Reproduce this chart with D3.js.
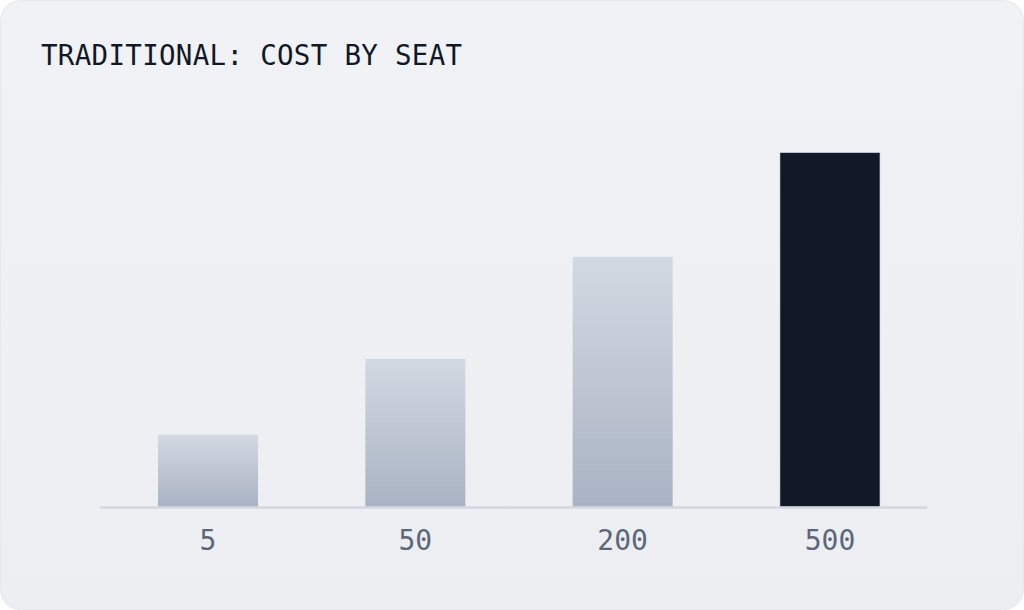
<!DOCTYPE html>
<html>
<head>
<meta charset="utf-8">
<script src="https://cdn.jsdelivr.net/npm/d3@7"></script>
<style>
  html, body { margin: 0; padding: 0; background: #ffffff; }
  svg { display: block; }
</style>
</head>
<body>
<script>
// data
var seats = ["5", "50", "200", "500"];
var cost = [20.4, 41.8, 70.6, 100];
var highlight = ["500"];
var title = "TRADITIONAL: COST BY SEAT";

var width = 1024, height = 610;
var baseY = 507, topY = 152.7;

var svg = d3.select("body").append("svg")
  .attr("width", width)
  .attr("height", height);

var defs = svg.append("defs");

var cardGrad = defs.append("linearGradient")
  .attr("id", "card").attr("x1", 0).attr("y1", 0).attr("x2", 0).attr("y2", 1);
cardGrad.append("stop").attr("offset", "0%").attr("stop-color", "#f1f2f5");
cardGrad.append("stop").attr("offset", "100%").attr("stop-color", "#eceef2");

var barGrad = defs.append("linearGradient")
  .attr("id", "bar").attr("x1", 0).attr("y1", 0).attr("x2", 0).attr("y2", 1);
barGrad.append("stop").attr("offset", "0%").attr("stop-color", "#d3d9e2");
barGrad.append("stop").attr("offset", "100%").attr("stop-color", "#a9b3c3");

// card
svg.append("rect")
  .attr("x", 0.5).attr("y", 0.5)
  .attr("width", width - 1).attr("height", height - 1)
  .attr("rx", 20).attr("ry", 20)
  .attr("fill", "url(#card)")
  .attr("stroke", "#e6e8ec");

// title
svg.append("text")
  .attr("x", 41).attr("y", 65)
  .attr("font-family", "'DejaVu Sans Mono', monospace")
  .attr("font-size", 27.5)
  .attr("letter-spacing", 0.3)
  .attr("fill", "#111827")
  .text(title);

// scales
var x = d3.scaleBand()
  .domain(seats)
  .range([106.2, 931.8])
  .paddingInner(0.5176)
  .paddingOuter(0.25);

var y = d3.scaleLinear()
  .domain([0, d3.max(cost)])
  .range([baseY, topY]);

// bars
svg.selectAll("rect.bars")
  .data(seats)
  .enter().append("rect")
  .attr("class", "bars")
  .attr("x", function(d){ return x(d); })
  .attr("y", function(d,i){ return y(cost[i]); })
  .attr("width", x.bandwidth())
  .attr("height", function(d,i){ return baseY - y(cost[i]); })
  .attr("fill", function(d){ return highlight.indexOf(d) >= 0 ? "#111827" : "url(#bar)"; })
  .attr("stroke", function(d){ return highlight.indexOf(d) >= 0 ? "#c9ced6" : "none"; })
  .attr("stroke-width", 0.6);

// baseline
svg.append("line")
  .attr("x1", 100).attr("x2", 927)
  .attr("y1", baseY + 0.5).attr("y2", baseY + 0.5)
  .attr("stroke", "#d2d7e0")
  .attr("stroke-width", 2.5);

// category labels
var xAxis = d3.axisBottom(x).tickSize(0).tickPadding(0);
var gx = svg.append("g")
  .attr("transform", "translate(0," + baseY + ")")
  .call(xAxis);
gx.select(".domain").remove();
gx.selectAll("text")
  .attr("y", 43)
  .attr("dy", 0)
  .attr("font-family", "'DejaVu Sans Mono', monospace")
  .attr("font-size", 28)
  .attr("fill", "#5d677a");
</script>
</body>
</html>
